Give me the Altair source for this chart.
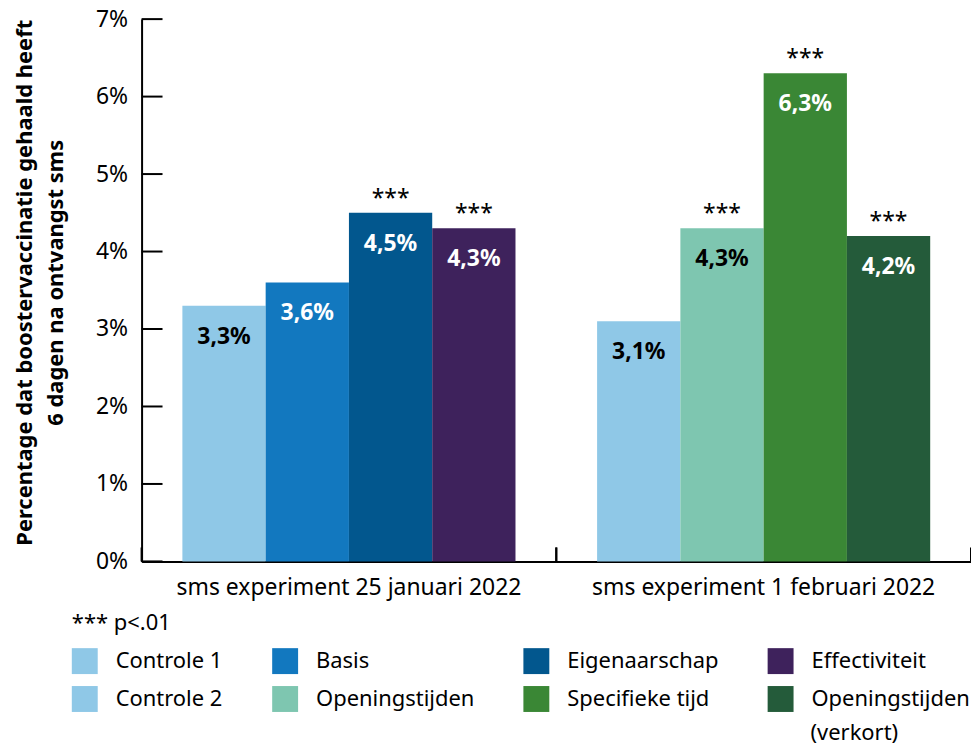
import altair as alt
import pandas as pd

group_order = ["sms experiment 25 januari 2022", "sms experiment 1 februari 2022"]
groups = [group_order[0]] * 4 + [group_order[1]] * 4
positions = [0, 1, 2, 3, 0, 1, 2, 3]
conditions = ["Controle 1", "Basis", "Eigenaarschap", "Effectiviteit",
              "Controle 2", "Openingstijden", "Specifieke tijd", "Openingstijden (verkort)"]
values = [3.3, 3.6, 4.5, 4.3, 3.1, 4.3, 6.3, 4.2]
value_labels = ["3,3%", "3,6%", "4,5%", "4,3%", "3,1%", "4,3%", "6,3%", "4,2%"]
stars = ["", "", "***", "***", "", "***", "***", "***"]
label_colors = ["#000000", "#ffffff", "#ffffff", "#ffffff", "#000000", "#000000", "#ffffff", "#ffffff"]
colors = ["#8FC8E7", "#1278BF", "#02578E", "#3E225C",
          "#8FC8E7", "#7EC6B0", "#3A8735", "#245B3A"]
y_ticks = [0, 1, 2, 3, 4, 5, 6, 7]
legend_note = ["(verkort)"]

df = pd.DataFrame({
    "group": groups, "pos": positions, "condition": conditions,
    "value": values, "label": value_labels, "stars": stars, "lc": label_colors,
})
df_yt = pd.DataFrame({"value": y_ticks})
df_xt = pd.DataFrame({"group": group_order})
df_note = pd.DataFrame({"t": legend_note})

FONT = "Noto Sans"
W, H = 832, 544

x_enc = alt.X("group:N", sort=group_order,
              scale=alt.Scale(paddingInner=0, paddingOuter=0),
              axis=alt.Axis(title=None, ticks=False, tickSize=0, labelPadding=15,
                            labelFontSize=23, labelColor="#000000", labelAngle=0,
                            domainColor="#000000", domainWidth=2, labelLimit=500))
xoff_enc = alt.XOffset("pos:O", scale=alt.Scale(paddingInner=0, paddingOuter=0.49))
y_enc = alt.Y("value:Q", scale=alt.Scale(domain=[0, 7], nice=False, zero=True),
              axis=alt.Axis(values=y_ticks, labelExpr="datum.value + '%'",
                            ticks=False, tickSize=0, labelPadding=14, grid=False,
                            labelFontSize=23, labelColor="#000000",
                            domainColor="#000000", domainWidth=2,
                            title=["Percentage dat boostervaccinatie gehaald heeft",
                                   "6 dagen na ontvangst sms"],
                            titleFontSize=22, titleFontWeight="bold", titleColor="#000000",
                            titleX=-105, titleY=264, titleAngle=-90, titleAlign="center",
                            titleBaseline="bottom", titleLineHeight=31))

legend = alt.Legend(
    title="*** p<.01", orient="none", legendX=-70, legendY=596,
    columns=4, direction="horizontal",
    symbolType="square", symbolSize=676, symbolStrokeWidth=0, symbolOpacity=1,
    labelFontSize=22, labelColor="#000000", labelOffset=18, labelLimit=400,
    labelExpr="datum.label == 'Openingstijden (verkort)' ? 'Openingstijden' : datum.label",
    columnPadding=49, rowPadding=12, padding=0,
    titleFontSize=22, titleFontWeight="normal", titleColor="#000000", titlePadding=13,
)

bars = alt.Chart(df).mark_bar().encode(
    x=x_enc, xOffset=xoff_enc, y=y_enc,
    color=alt.Color("condition:N", scale=alt.Scale(domain=conditions, range=colors),
                    legend=legend),
)

vals = alt.Chart(df).mark_text(fontSize=23, fontWeight="bold", baseline="middle", dy=31).encode(
    x=alt.X("group:N", sort=group_order), xOffset=alt.XOffset("pos:O"),
    y=alt.Y("value:Q"), text="label:N", fill=alt.Fill("lc:N", scale=None),
)

star_text = alt.Chart(df).mark_text(fontSize=23, baseline="bottom", dy=-2, color="#000000").encode(
    x=alt.X("group:N", sort=group_order), xOffset=alt.XOffset("pos:O"),
    y=alt.Y("value:Q"), text="stars:N",
)

yticks = alt.Chart(df_yt).mark_rule(color="#000000", strokeWidth=2).encode(
    y=alt.Y("value:Q"), x=alt.value(0), x2=alt.value(21),
)

xticks_l = alt.Chart(df_xt).mark_rule(color="#000000", strokeWidth=2).encode(
    x=alt.X("group:N", sort=group_order, bandPosition=0), y=alt.value(H - 14), y2=alt.value(H),
)
xticks_r = alt.Chart(df_xt).mark_rule(color="#000000", strokeWidth=2).encode(
    x=alt.X("group:N", sort=group_order, bandPosition=1), y=alt.value(H - 14), y2=alt.value(H),
)

note = alt.Chart(df_note).mark_text(align="left", baseline="middle", fontSize=22,
                                    color="#000000").encode(
    text="t:N", x=alt.value(671), y=alt.value(716),
)

chart = alt.layer(bars, vals, star_text, yticks, xticks_l, xticks_r, note).properties(
    width=W, height=H,
    autosize=alt.AutoSizeParams(type="none"),
    padding={"left": 134, "top": 10, "right": 0, "bottom": 185},
).configure(font=FONT).configure_view(stroke=None)

chart.save("out.html", embed_options={"renderer": "svg", "actions": False})
